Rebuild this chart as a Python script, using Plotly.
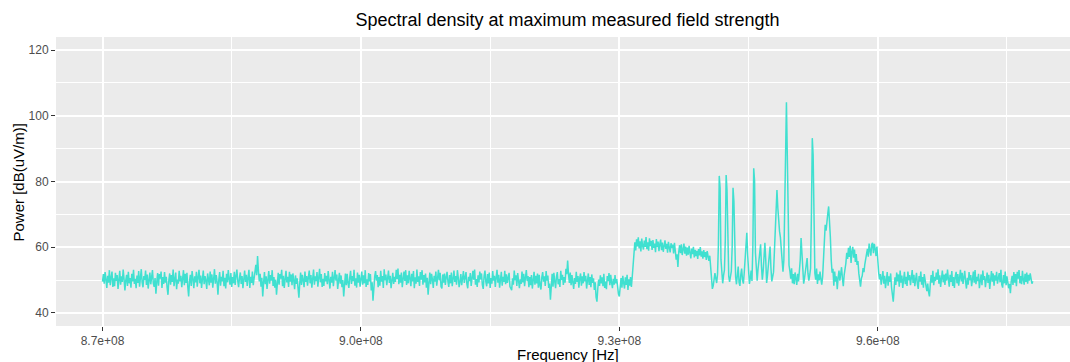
import numpy as np
import plotly.graph_objects as go

freq_start_hz = 870.0e6
freq_step_hz = 0.1e6

# 870.0 - 931.5 MHz : noise floor
power_floor_low = [
    49.5, 51.8, 48.9, 52.4, 50.1, 47.6, 51.3, 49.2, 53.0, 48.4, 50.7, 52.6, 47.9, 50.5, 48.1, 52.2, 49.7, 51.5, 47.3, 50.9,
    52.8, 48.6, 51.1, 49.4, 53.2, 50.3, 46.8, 49.9, 51.6, 48.2, 52.5, 49.0, 50.6, 47.7, 51.9, 49.6, 53.1, 48.8, 50.4, 47.5,
    51.4, 49.1, 52.7, 48.0, 50.8, 53.3, 49.3, 47.8, 51.2, 50.0, 52.9, 48.5, 51.7, 47.4, 49.8, 52.3, 48.7, 50.2, 53.0, 49.0,
    47.9, 50.6, 45.8, 49.5, 52.1, 48.3, 51.8, 50.4, 52.6, 47.6, 50.9, 48.8, 52.4, 49.2, 51.0, 47.7, 45.5, 49.9, 52.0, 48.6,
    51.5, 49.4, 53.2, 48.1, 50.7, 52.3, 47.2, 50.1, 48.9, 52.8, 49.6, 51.3, 47.8, 50.5, 53.0, 48.4, 51.9, 49.1, 52.2, 47.9,
    45.0, 49.7, 51.6, 48.2, 52.7, 50.3, 47.5, 51.1, 49.3, 52.5, 48.0, 50.8, 53.1, 49.0, 51.4, 47.6, 50.2, 52.9, 48.7, 51.2,
    49.8, 47.3, 52.0, 50.6, 48.4, 52.6, 49.2, 51.7, 47.7, 50.4, 53.3, 48.9, 51.5, 49.5, 45.5, 50.0, 52.4, 48.3, 51.0, 49.6,
    52.8, 48.1, 50.7, 47.4, 51.9, 49.3, 53.0, 50.2, 48.6, 52.1, 47.9, 50.9, 49.0, 52.5, 48.5, 51.3, 53.2, 49.7, 47.8, 50.6,
    52.3, 48.8, 51.2, 47.5, 50.0, 52.9, 49.4, 51.6, 48.2, 50.8, 53.1, 47.6, 51.0, 49.1, 52.6, 48.4, 50.5, 52.0, 54.6, 51.5,
    57.3, 52.8, 49.6, 51.9, 48.0, 50.7, 45.0, 49.2, 52.4, 48.7, 51.1, 47.3, 50.3, 52.7, 48.9, 51.5, 49.8, 53.0, 48.2, 50.9,
    47.7, 50.1, 45.5, 49.0, 52.2, 48.6, 51.8, 50.4, 53.1, 48.1, 51.3, 47.6, 50.6, 52.8, 49.3, 51.0, 47.9, 52.5, 49.5, 51.7,
    48.4, 52.0, 49.9, 47.2, 51.4, 48.8, 50.5, 47.5, 44.6, 49.1, 52.3, 48.5, 51.6, 50.0, 47.8, 52.6, 49.4, 51.2, 48.3, 50.8,
    52.9, 49.0, 51.5, 47.7, 50.2, 53.2, 48.6, 51.1, 49.7, 52.4, 48.0, 50.9, 53.4, 49.3, 51.8, 47.9, 50.4, 48.2, 52.1, 49.6,
    51.3, 48.7, 52.7, 50.1, 47.4, 51.0, 49.2, 52.5, 48.1, 50.6, 53.0, 49.8, 51.7, 47.3, 50.3, 52.2, 48.9, 51.4, 47.8, 50.0,
    45.0, 49.5, 52.0, 48.4, 51.9, 49.1, 47.6, 50.7, 52.8, 48.8, 51.2, 49.7, 53.1, 48.3, 50.5, 47.7, 52.3, 49.2, 51.6, 48.0,
    50.8, 52.6, 48.6, 51.4, 49.0, 53.0, 47.9, 50.2, 48.5, 52.1, 49.6, 51.8, 46.8, 49.3, 43.7, 48.2, 51.1, 52.7, 49.8, 51.5,
    47.8, 50.9, 48.3, 52.8, 49.5, 51.2, 47.6, 53.3, 49.9, 51.7, 48.4, 50.6, 52.9, 49.1, 51.3, 47.5, 50.4, 52.2, 48.8, 51.0,
    49.4, 53.1, 50.3, 53.5, 48.7, 51.6, 49.2, 52.3, 47.8, 50.0, 52.6, 49.7, 53.0, 48.5, 51.4, 49.0, 52.8, 50.5, 48.1, 51.9,
    49.6, 52.7, 47.5, 50.8, 48.9, 53.2, 49.4, 51.1, 48.2, 52.4, 50.1, 53.0, 48.6, 51.5, 49.3, 52.0, 47.7, 50.7, 45.5, 49.0,
    52.3, 48.7, 51.9, 50.2, 47.6, 51.3, 49.5, 52.6, 48.3, 50.6, 53.1, 49.9, 52.2, 48.0, 47.4, 51.7, 49.2, 52.0, 48.5, 50.9,
    52.5, 49.6, 47.9, 51.5, 49.0, 52.3, 48.1, 50.4, 52.9, 49.4, 51.2, 48.6, 53.0, 50.7, 47.8, 49.5, 51.8, 48.4, 50.1, 52.7,
    49.1, 51.6, 52.4, 48.8, 47.5, 51.0, 49.7, 52.1, 48.2, 50.5, 52.8, 50.1, 53.2, 48.6, 50.3, 47.9, 51.4, 49.3, 52.6, 50.2,
    52.0, 48.5, 47.3, 51.2, 52.9, 49.5, 48.1, 51.8, 49.0, 52.3, 47.6, 50.6, 48.9, 52.7, 49.8, 51.3, 47.9, 50.8, 53.1, 49.2,
    51.6, 47.7, 50.4, 52.5, 48.3, 51.0, 49.4, 52.8, 48.7, 51.7, 49.1, 50.3, 52.2, 48.0, 47.2, 46.9, 50.5, 48.6, 52.9, 49.9,
    51.4, 48.2, 52.1, 49.6, 47.5, 50.2, 48.8, 52.6, 49.3, 51.9, 48.1, 50.7, 53.0, 49.7, 51.2, 47.8, 50.9, 48.4, 51.5, 47.4,
    50.1, 52.5, 48.6, 51.3, 49.0, 52.0, 47.7, 51.6, 48.3, 47.1, 50.8, 52.4, 49.5, 51.1, 48.2, 52.7, 49.8, 51.4, 47.6, 48.9,
    44.0, 49.4, 51.9, 48.0, 52.2, 49.6, 47.5, 51.0, 52.4, 48.7, 50.3, 47.9, 52.8, 50.0, 51.6, 48.5, 50.9, 49.2, 53.4, 51.8,
    55.9, 51.7, 49.1, 52.3, 48.4, 51.5, 49.8, 47.3, 50.6, 48.8, 52.5, 49.4, 51.2, 47.7, 50.5, 52.0, 48.3, 51.1, 49.0, 52.4,
    49.6, 51.3, 47.4, 50.2, 52.0, 48.5, 50.9, 47.8, 51.7, 49.1, 50.5, 47.0, 49.3, 44.8, 43.4, 47.5, 50.1, 48.2, 51.4, 49.0,
    50.8, 48.1, 51.9, 47.6, 49.5, 47.2, 51.2, 49.7, 52.1, 48.4, 51.6, 49.2, 47.5, 50.4, 48.6, 51.5, 49.0, 50.3, 46.9, 45.7,
    45.0, 48.4, 50.6, 47.7, 51.3, 49.1, 47.4, 50.8, 48.5, 51.6, 47.0, 50.2, 48.3, 50.9, 47.9, 51.0,
]

# 931.6 - 940.5 MHz : raised plateau
power_plateau = [
    54.8, 58.9, 61.5,
    59.0, 62.4, 60.2, 63.0, 59.6, 61.8, 58.7, 62.6, 60.5, 59.3, 62.0, 60.1, 63.1, 59.4, 61.5, 58.9, 62.7, 60.3, 61.9, 59.2,
    62.2, 59.8, 61.1, 58.5, 62.5, 60.0, 61.7, 58.8, 60.9, 62.3, 59.1, 61.4, 58.6, 60.7, 62.1, 59.5, 61.0, 58.3, 61.6, 59.9,
    58.4, 61.2, 59.7, 60.8, 58.1, 61.3, 59.0, 56.2, 57.8, 54.0, 58.6, 60.6, 58.2, 60.9, 57.6, 59.8, 61.1, 58.0, 60.2, 57.4,
    59.9, 57.7, 60.4, 58.3, 56.6, 59.6, 57.9, 60.1, 56.9, 59.2, 57.3, 58.9, 56.4, 59.4, 57.5, 60.0, 57.1, 58.7, 56.5, 59.1,
    57.0, 58.5, 56.1, 58.8, 57.2, 55.8, 57.4,
]

# 940.6 - 960.2 MHz : carriers
power_carriers = [
    53.5, 49.6, 47.3, 48.2, 50.6, 52.1, 50.4, 49.1, 51.8, 60.5, 81.7, 78.0, 56.2, 50.3, 49.0, 51.4, 53.0, 62.0, 82.0, 77.5,
    55.8, 51.2, 49.4, 50.8, 52.6, 60.0, 78.1, 74.0, 56.0, 50.9, 48.7, 52.4, 54.1, 49.3, 48.2, 51.6, 53.5, 50.0, 48.9, 52.2,
    55.6, 61.0, 64.4, 57.5, 51.3, 48.8, 50.5, 52.9, 49.7, 60.0, 84.0, 80.2, 58.3, 51.6, 49.8, 53.2, 55.7, 58.5, 60.9, 54.2,
    50.1, 52.8, 57.4, 61.3, 56.0, 49.1, 51.5, 54.3, 59.2, 60.2, 53.7, 49.6, 51.0, 52.4, 58.5, 66.0, 74.0, 77.4, 72.0, 66.5,
    64.8, 63.0, 60.1, 55.0, 52.5, 56.0, 72.0, 98.0, 104.1, 88.0,
    62.0, 54.5, 52.8, 50.4, 53.6, 49.0, 51.8, 48.7, 52.3, 50.1, 48.5, 51.9, 49.6, 52.7, 56.0, 62.8, 58.0, 51.2, 48.9, 50.6,
    53.1, 55.2, 56.7, 52.0, 49.8, 51.4, 53.5, 70.0, 93.2, 88.0, 60.5, 52.1, 50.1, 53.5, 48.8, 51.7, 49.9, 52.6, 50.3, 48.6,
    51.0, 55.4, 62.0, 66.8, 65.0, 68.5, 70.2, 72.4, 69.0, 63.0, 56.0, 52.2, 53.4, 48.3, 52.6, 49.5, 51.1, 47.2, 50.6, 52.9,
    49.8, 51.8, 53.9, 50.4, 48.1, 51.5, 53.0, 55.1, 58.3, 56.4, 59.8, 57.0, 60.4, 55.2, 58.6, 60.1, 56.8, 59.3, 55.5, 57.9,
    54.6, 55.8, 52.1, 49.6, 48.0, 50.5, 51.3, 53.6, 52.4, 54.8, 56.2, 58.7, 59.5, 57.1, 61.1, 59.0, 57.4, 60.8, 61.3, 58.2,
    61.0, 59.6, 57.3, 60.2, 55.3, 52.5, 50.2,
]

# 960.3 - 978.0 MHz : noise floor
power_floor_high = [
    51.8, 48.6, 50.9, 52.7, 48.9, 51.3, 47.5, 50.6, 52.4, 48.3, 51.1, 49.4, 52.0, 47.8, 45.9, 43.4,
    47.2, 50.8, 48.5, 52.3, 49.6, 51.7, 48.0, 52.9, 49.2, 51.4, 47.6, 50.3, 52.5, 48.7, 51.0, 48.2, 52.6, 49.9, 51.5, 48.4,
    50.7, 53.0, 49.1, 51.6, 48.1, 50.4, 52.2, 48.8, 47.3, 51.2, 49.5, 52.6, 48.6, 50.9, 47.7, 51.8, 49.0, 48.2, 46.6, 48.9,
    46.4, 45.0, 48.7, 51.5, 49.2, 52.8, 48.4, 51.0, 49.7, 52.3, 50.1, 53.3, 48.9, 51.4, 47.9, 50.6, 52.9, 49.3, 51.7, 48.5,
    52.0, 49.8, 53.2, 50.3, 48.0, 51.6, 49.4, 52.7, 48.2, 50.9, 47.6, 51.1, 52.5, 49.0, 51.8, 48.3, 50.5, 53.1, 49.6, 52.2,
    48.8, 51.3, 52.8, 49.5, 47.4, 50.7, 48.6, 52.4, 49.9, 51.5, 48.1, 50.2, 52.6, 49.2, 53.0, 48.7, 51.0, 49.7, 51.9, 47.5,
    49.4, 51.7, 48.4, 52.9, 50.0, 51.2, 47.8, 50.6, 52.3, 49.1, 51.6, 47.3, 50.4, 52.7, 49.5, 52.0, 48.3, 51.4, 49.8, 52.5,
    48.9, 50.3, 52.1, 49.3, 53.1, 48.6, 47.7, 51.5, 49.0, 52.6, 48.4, 51.1, 49.6, 47.5, 48.8, 46.0, 49.7, 51.3, 48.5, 52.4,
    49.2, 51.8, 48.1, 52.5, 50.4, 53.0, 49.0, 51.2, 48.7, 52.8, 50.1, 48.6, 51.9, 49.4, 52.3, 48.9, 51.6, 49.8, 52.0, 50.2,
    48.9, 49.6,
]

x_tick_vals = [8.7e8, 9.0e8, 9.3e8, 9.6e8]
x_tick_text = ["8.7e+08", "9.0e+08", "9.3e+08", "9.6e+08"]
x_minor_vals = [8.55e8, 8.85e8, 9.15e8, 9.45e8, 9.75e8]
y_tick_vals = [40, 60, 80, 100, 120]
y_minor_vals = [50, 70, 90, 110]

title_text = "Spectral density at maximum measured field strength"
x_title = "Frequency [Hz]"
y_title = "Power [dB(uV/m)]"

power_db = power_floor_low + power_plateau + power_carriers + power_floor_high
freq_hz = freq_start_hz + freq_step_hz * np.arange(len(power_db))

# ---- figure ----
FONT = "Liberation Sans, Arial, Helvetica, sans-serif"
W, H = 1070, 362
L, R, T, B = 56, 0, 37, 36

fig = go.Figure()
fig.add_trace(go.Scatter(
    x=freq_hz, y=power_db, mode="lines",
    line=dict(color="#40E0D0", width=1.5),
    hoverinfo="skip", showlegend=False,
))

axis_common = dict(
    showline=False, zeroline=False,
    ticks="outside", ticklen=4, tickwidth=1, tickcolor="#333333",
    tickfont=dict(family=FONT, size=12, color="#4D4D4D"),
    showgrid=True, gridcolor="#FFFFFF", gridwidth=1.5,
)

fig.update_xaxes(
    range=[8.6460e8, 9.8232e8],
    tickmode="array", tickvals=x_tick_vals, ticktext=x_tick_text,
    minor=dict(tickmode="array", tickvals=x_minor_vals, showgrid=True,
               gridcolor="#FFFFFF", gridwidth=0.7, ticks=""),
    **axis_common,
)
fig.update_yaxes(
    range=[36, 124],
    tickmode="array", tickvals=y_tick_vals, ticktext=[str(v) for v in y_tick_vals],
    minor=dict(tickmode="array", tickvals=y_minor_vals, showgrid=True,
               gridcolor="#FFFFFF", gridwidth=0.7, ticks=""),
    **axis_common,
)

plot_w = W - L - R
plot_h = H - T - B

fig.update_layout(
    width=W, height=H,
    margin=dict(l=L, r=R, t=T, b=B, pad=0),
    paper_bgcolor="#FFFFFF", plot_bgcolor="#EBEBEB",
    font=dict(family=FONT, color="#000000"),
    title=dict(text=title_text, xref="container", yref="container",
               x=567.5 / W, y=1 - 20 / H, xanchor="center", yanchor="middle",
               font=dict(family=FONT, size=18, color="#000000")),
    annotations=[
        dict(text=x_title, xref="paper", yref="paper",
             x=(567.5 - L) / plot_w, y=-(354 - (H - B)) / plot_h,
             xanchor="center", yanchor="middle", showarrow=False,
             font=dict(family=FONT, size=15, color="#000000")),
        dict(text=y_title, xref="paper", yref="paper",
             x=(18 - L) / plot_w, y=0.5 + (T + plot_h / 2 - 182.5) / plot_h,
             xanchor="center", yanchor="middle", showarrow=False, textangle=-90,
             font=dict(family=FONT, size=15, color="#000000")),
    ],
)

fig.write_html(
    "out.html",
    config={"displayModeBar": False},
    post_script="document.body.style.margin='0';document.body.style.overflow='hidden';",
)
